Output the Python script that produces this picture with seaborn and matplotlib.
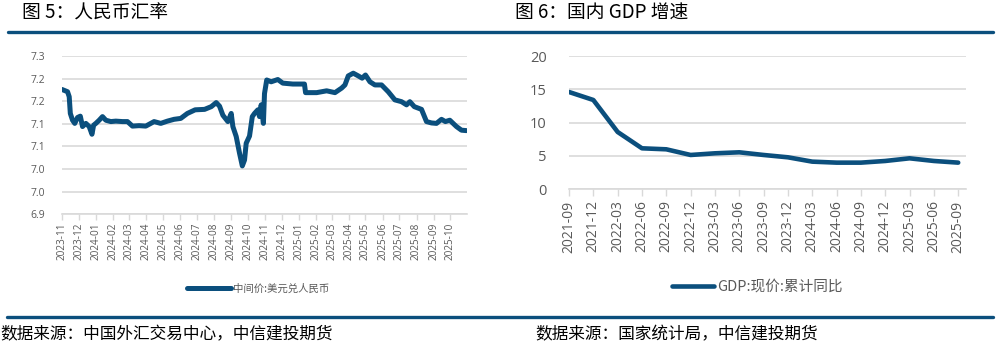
import numpy as np
import pandas as pd
import matplotlib
matplotlib.use('Agg')
import matplotlib.pyplot as plt
import matplotlib.dates as mdates
from matplotlib.lines import Line2D
import seaborn as sns

sns.set_theme(style='white')
plt.rcParams['font.family'] = ['Open Sans', 'Noto Sans CJK SC', 'DejaVu Sans']
plt.rcParams['axes.unicode_minus'] = False

# 图5 数据：中间价 美元兑人民币
fx_dates = ['2023-11-01', '2023-11-11', '2023-11-14', '2023-11-16', '2023-11-20', '2023-11-24',
            '2023-11-29', '2023-12-04', '2023-12-08', '2023-12-14', '2023-12-20', '2023-12-25',
            '2023-12-28', '2024-01-01', '2024-01-07', '2024-01-13', '2024-01-19', '2024-01-28',
            '2024-02-06', '2024-02-18', '2024-02-27', '2024-03-07', '2024-03-19', '2024-03-31',
            '2024-04-15', '2024-04-27', '2024-05-09', '2024-05-21', '2024-06-02', '2024-06-14',
            '2024-06-28', '2024-07-15', '2024-07-27', '2024-08-05', '2024-08-11', '2024-08-17',
            '2024-08-26', '2024-09-01', '2024-09-04', '2024-09-10', '2024-09-16', '2024-09-21',
            '2024-09-25', '2024-09-28', '2024-10-04', '2024-10-09', '2024-10-13', '2024-10-19',
            '2024-10-22', '2024-10-25', '2024-10-29', '2024-10-31', '2024-11-04', '2024-11-12',
            '2024-11-24', '2024-12-03', '2024-12-21', '2025-01-11', '2025-01-13', '2025-02-02',
            '2025-02-20', '2025-03-07', '2025-03-19', '2025-03-25', '2025-03-31', '2025-04-09',
            '2025-04-18', '2025-04-25', '2025-05-01', '2025-05-09', '2025-05-18', '2025-05-30',
            '2025-06-11', '2025-06-23', '2025-07-05', '2025-07-14', '2025-07-20', '2025-07-28',
            '2025-08-10', '2025-08-19', '2025-08-28', '2025-09-06', '2025-09-15', '2025-09-22',
            '2025-09-30', '2025-10-12', '2025-10-21', '2025-10-30']
fx_values = [7.176, 7.171, 7.160, 7.123, 7.108, 7.101,
             7.114, 7.117, 7.094, 7.101, 7.094, 7.077,
             7.097, 7.101, 7.108, 7.116, 7.108, 7.105,
             7.106, 7.105, 7.105, 7.095, 7.096, 7.095,
             7.105, 7.101, 7.106, 7.110, 7.112, 7.123,
             7.131, 7.132, 7.138, 7.147, 7.139, 7.119,
             7.105, 7.123, 7.094, 7.072, 7.035, 7.007,
             7.020, 7.057, 7.073, 7.116, 7.123, 7.131,
             7.116, 7.142, 7.101, 7.167, 7.197, 7.193,
             7.198, 7.190, 7.188, 7.188, 7.169, 7.169,
             7.173, 7.169, 7.179, 7.186, 7.206, 7.212,
             7.206, 7.201, 7.208, 7.193, 7.186, 7.186,
             7.171, 7.153, 7.149, 7.142, 7.149, 7.138,
             7.132, 7.105, 7.102, 7.101, 7.110, 7.105,
             7.108, 7.094, 7.086, 7.085]
fx_yticks = [6.90, 6.95, 7.00, 7.05, 7.10, 7.15, 7.20, 7.25]
fx_ytick_labels = ['6.9', '7.0', '7.0', '7.1', '7.1', '7.2', '7.2', '7.3']

# 图6 数据：GDP 现价 累计同比
gdp_quarters = ['2021-09', '2021-12', '2022-03', '2022-06', '2022-09', '2022-12',
                '2023-03', '2023-06', '2023-09', '2023-12', '2024-03', '2024-06',
                '2024-09', '2024-12', '2025-03', '2025-06', '2025-09']
gdp_values = [14.6, 13.4, 8.6, 6.15, 6.0, 5.15, 5.4, 5.55, 5.15, 4.8,
              4.15, 4.0, 4.0, 4.25, 4.65, 4.25, 4.0]

BLUE = '#0b4f7d'
GREY_TXT = '#595959'
GRID = '#d9d9d9'
CJK = ['Noto Sans CJK SC', 'DejaVu Sans']

W, H = 999, 350
fig = plt.figure(figsize=(W / 100, H / 100), dpi=100)


def box(x0, y0, x1, y1):
    return [x0 / W, 1 - y1 / H, (x1 - x0) / W, (y1 - y0) / H]


# ---- 图5 ----
ax1 = fig.add_axes(box(62, 56, 467, 214.3))
fx = pd.DataFrame({'date': pd.to_datetime(fx_dates), 'value': fx_values})
sns.lineplot(data=fx, x='date', y='value', ax=ax1, color=BLUE, lw=3.6,
             solid_capstyle='round', solid_joinstyle='round', label='中间价:美元兑人民币')
ax1.set_xlim(pd.Timestamp('2023-11-01'), pd.Timestamp('2025-10-31'))
ax1.set_ylim(6.90, 7.25)
ax1.set_yticks(fx_yticks, fx_ytick_labels)
ax1.xaxis.set_major_locator(mdates.MonthLocator())
ax1.xaxis.set_major_formatter(mdates.DateFormatter('%Y-%m'))
ax1.set_xlabel('')
ax1.set_ylabel('')
ax1.yaxis.grid(True, color=GRID, lw=1.2)
ax1.tick_params(axis='x', labelrotation=90, labelsize=7.2, colors=GREY_TXT,
                length=4, width=1, color=GRID, bottom=True, pad=2)
ax1.tick_params(axis='y', labelsize=7.5, colors=GREY_TXT, length=0, pad=12)
for s in ['top', 'right', 'left']:
    ax1.spines[s].set_visible(False)
ax1.spines['bottom'].set_color(GRID)
ax1.spines['bottom'].set_linewidth(1.2)
ax1.legend(loc='center', bbox_to_anchor=(258 / W, 1 - 289 / H), bbox_transform=fig.transFigure,
           frameon=False, prop={'family': CJK, 'size': 7.5}, labelcolor=GREY_TXT,
           handlelength=4.2, handletextpad=0.15)

# ---- 图6 ----
ax2 = fig.add_axes(box(569, 56, 966, 189.3))
gdp = pd.DataFrame({'quarter': gdp_quarters, 'value': gdp_values})
sns.lineplot(data=gdp, x='quarter', y='value', ax=ax2, color=BLUE, lw=3.3,
             solid_capstyle='round', solid_joinstyle='round', label='GDP:现价:累计同比')
ax2.set_xlim(0, 16.32)
ax2.set_ylim(0, 20)
ax2.set_yticks([0, 5, 10, 15, 20])
ax2.set_xlabel('')
ax2.set_ylabel('')
ax2.yaxis.grid(True, color=GRID, lw=1.2)
ax2.tick_params(axis='x', labelrotation=90, labelsize=10, colors=GREY_TXT,
                length=5, width=1, color=GRID, bottom=True, pad=3)
ax2.tick_params(axis='y', labelsize=10.5, colors=GREY_TXT, length=0, pad=16)
for s in ['top', 'right', 'left']:
    ax2.spines[s].set_visible(False)
ax2.spines['bottom'].set_color(GRID)
ax2.spines['bottom'].set_linewidth(1.2)
ax2.legend(loc='center', bbox_to_anchor=(757 / W, 1 - 287 / H), bbox_transform=fig.transFigure,
           frameon=False, prop={'family': CJK, 'size': 10.5}, labelcolor=GREY_TXT,
           handlelength=2.9, handletextpad=0.2)

# ---- 标题、分隔线、数据来源 ----
fig.text(22 / W, 1 - 13 / H, '图 5：人民币汇率', fontsize=13.5, family=CJK,
         weight='medium', va='center', ha='left', color='black')
fig.text(515 / W, 1 - 13 / H, '图 6：国内 GDP 增速', fontsize=13.5, family=CJK,
         weight='medium', va='center', ha='left', color='black')
fig.add_artist(Line2D([8 / W, 993 / W], [1 - 32 / H, 1 - 32 / H], color=BLUE, lw=2.4))
fig.add_artist(Line2D([7 / W, 993 / W], [1 - 317 / H, 1 - 317 / H], color=BLUE, lw=2.4))
fig.text(0 / W, 1 - 335 / H, '数据来源：中国外汇交易中心，中信建投期货', fontsize=12,
         family=CJK, style='italic', va='center', ha='left', color='black')
fig.text(535 / W, 1 - 335 / H, '数据来源：国家统计局，中信建投期货', fontsize=12,
         family=CJK, style='italic', va='center', ha='left', color='black')

fig.savefig('out.png', dpi=100)
